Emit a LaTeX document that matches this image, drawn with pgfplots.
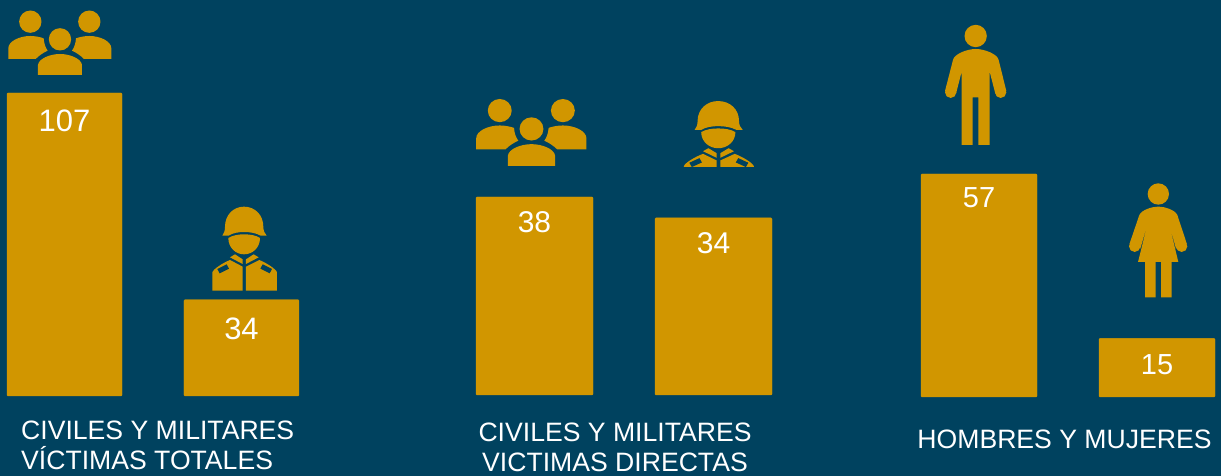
\documentclass[border=0pt]{standalone}
\usepackage{fontspec}
\setmainfont{Liberation Sans}
\usepackage{pgfplots}
\pgfplotsset{compat=1.18}
\definecolor{bg}{HTML}{00425F}
\definecolor{gold}{HTML}{D19600}
\pgfplotsset{
  panel/.style={
    scale only axis, hide axis, clip=false, anchor=south west,
    ymin=0, ybar, bar shift=0pt,
    /pgf/number format/assume math mode=true,
    nodes near coords,
    every node near coord/.append style={anchor=center,text=white,inner sep=0pt,font=\fontsize{#1}{#1}\selectfont},
  },
}
% icons: local coordinates, y downwards
\newcommand{\peopleicon}{%
  \fill[gold] (91,65) circle (33.5);
  \fill[gold] (268,65) circle (33.5);
  \fill[gold] (180,118) circle (33.5);
  \fill[gold] (25,177) -- (25,145) .. controls (25,124) and (58,108) .. (91,108) .. controls (105,108) and (120,111) .. (131,115)
     .. controls (132,130) and (136,142) .. (143,152) .. controls (130,158) and (118,166) .. (107,177) -- cycle;
  \fill[gold] (334,177) -- (334,145) .. controls (334,124) and (301,108) .. (268,108) .. controls (254,108) and (239,111) .. (228,115)
     .. controls (227,130) and (223,142) .. (216,152) .. controls (229,158) and (241,166) .. (252,177) -- cycle;
  \fill[gold] (114,225) -- (114,195) .. controls (116,176) and (150,162) .. (180,162) .. controls (210,162) and (244,176) .. (246,195) -- (246,225) -- cycle;
}
\newcommand{\soldiericon}{%
  \fill[gold] (127,122) .. controls (132,115) and (135,108) .. (135,95) .. controls (135,60) and (160,35) .. (192,35)
     .. controls (225,35) and (250,60) .. (250,95) .. controls (250,108) and (254,115) .. (260,122)
     -- (242,122) .. controls (228,114) and (210,111) .. (192,111) .. controls (175,111) and (158,114) .. (146,122) -- cycle;
  \fill[gold] (145,129) .. controls (158,121) and (175,118) .. (192,118) .. controls (210,118) and (228,121) .. (240,129)
     .. controls (240,158) and (218,178) .. (192,178) .. controls (167,178) and (145,158) .. (145,129) -- cycle;
  \fill[gold] (150,187) -- (165,178) -- (188,193) -- (188,207) -- cycle;
  \fill[gold] (236,187) -- (221,178) -- (198,193) -- (198,207) -- cycle;
  \fill[gold] (97,287) -- (97,232) .. controls (100,222) and (130,203) .. (150,195) -- (188,215) -- (188,287) -- cycle;
  \fill[gold] (291,287) -- (291,232) .. controls (288,222) and (258,203) .. (238,195) -- (198,215) -- (198,287) -- cycle;
  \fill[bg] (112,222) -- (140,208) -- (147,221) -- (119,235) -- cycle;
  \fill[bg] (276,222) -- (248,208) -- (241,221) -- (269,235) -- cycle;
}
\newcommand{\manicon}{%
  \fill[gold] (167,63) circle (33.5);
  \fill[gold] (92,232) circle (17);
  \fill[gold] (242,232) circle (17);
  \fill[gold] (125,390) -- (158,390) -- (158,247) -- (175,247) -- (175,390) -- (209,390) -- (209,170) -- (226,236)
     -- (259,228) -- (236,135) .. controls (233,118) and (195,102) .. (167,102) .. controls (140,102) and (102,118) .. (99,135)
     -- (75,228) -- (108,236) -- (125,170) -- cycle;
}
\newcommand{\womanicon}{%
  \fill[gold] (175,57) circle (32);
  \fill[gold] (104,214) circle (17);
  \fill[gold] (245,214) circle (17);
  \fill[gold] (114,261) -- (135,261) -- (135,367) -- (167,367) -- (167,261) -- (183,261) -- (183,367) -- (215,367) -- (215,261) -- (235,261)
     -- (207,145) -- (228,221) -- (261,208) -- (232,120) .. controls (225,105) and (195,95) .. (175,95) .. controls (155,95) and (125,105) .. (118,120)
     -- (88,208) -- (121,221) -- (143,145) -- cycle;
}
\newcommand{\placeicon}[5]{%
  \begin{scope}[x=1pt,y=-1pt,shift={(#1,#2)},xscale=#3,yscale=#4]#5\end{scope}}
\begin{document}
\begin{tikzpicture}[x=1pt,y=1pt]
\fill[bg] (0,0) rectangle (1221,476);

\begin{axis}[panel=31, at={(7pt,80pt)}, width=292pt, height=303pt,
  xmin=-0.3249, xmax=1.3249, ymax=107, bar width=115pt]
\addplot[fill=gold,draw=gold,rounded corners=1pt,nodes near coords style={yshift=-27.5pt}] coordinates {(0,107)};
\addplot[fill=gold,draw=gold,rounded corners=1pt,nodes near coords style={yshift=-29.5pt}] coordinates {(1,34)};
\end{axis}

\begin{axis}[panel=30, at={(476pt,81pt)}, width=296pt, height=198pt,
  xmin=-0.3268, xmax=1.3268, ymax=38, bar width=117pt,
  every node near coord/.append style={yshift=-25pt}]
\addplot[fill=gold,draw=gold,rounded corners=1pt] coordinates {(0,38) (1,34)};
\end{axis}

\begin{axis}[panel=29, at={(921pt,79pt)}, width=294pt, height=223pt,
  xmin=-0.3258, xmax=1.3258, ymax=57, bar width=116pt]
\addplot[fill=gold,draw=gold,rounded corners=1pt,nodes near coords style={yshift=-23.5pt}] coordinates {(0,57)};
\addplot[fill=gold,draw=gold,rounded corners=1pt,nodes near coords style={yshift=-26pt}] coordinates {(1,15)};
\end{axis}

% icons
\begin{scope}[shift={(0,476)}]
  \placeicon{0}{0}{0.3333}{0.3333}{\peopleicon}
  \placeicon{180}{195}{0.3333}{0.3333}{\soldiericon}
  \placeicon{467.3}{88.1}{0.3566}{0.346}{\peopleicon}
  \placeicon{920}{15}{0.3333}{0.3333}{\manicon}
  \placeicon{1100}{175}{0.3333}{0.3333}{\womanicon}
\end{scope}
\begin{scope}
  \clip (640,309.3) rectangle (800,400);
  \begin{scope}[shift={(0,476)}]
    \placeicon{649}{89.5}{0.36}{0.33}{\soldiericon}
  \end{scope}
\end{scope}

% captions
\node[text=white,align=left,anchor=west,inner sep=0pt,font=\fontsize{26.6}{30}\selectfont] at (21,31) {CIVILES Y MILITARES\\VÍCTIMAS TOTALES};
\node[text=white,align=center,inner sep=0pt,font=\fontsize{26.6}{30}\selectfont] at (615,29) {CIVILES Y MILITARES\\VICTIMAS DIRECTAS};
\node[text=white,align=center,inner sep=0pt,font=\fontsize{26.6}{30}\selectfont] at (1064.5,37) {HOMBRES Y MUJERES};
\end{tikzpicture}
\end{document}
